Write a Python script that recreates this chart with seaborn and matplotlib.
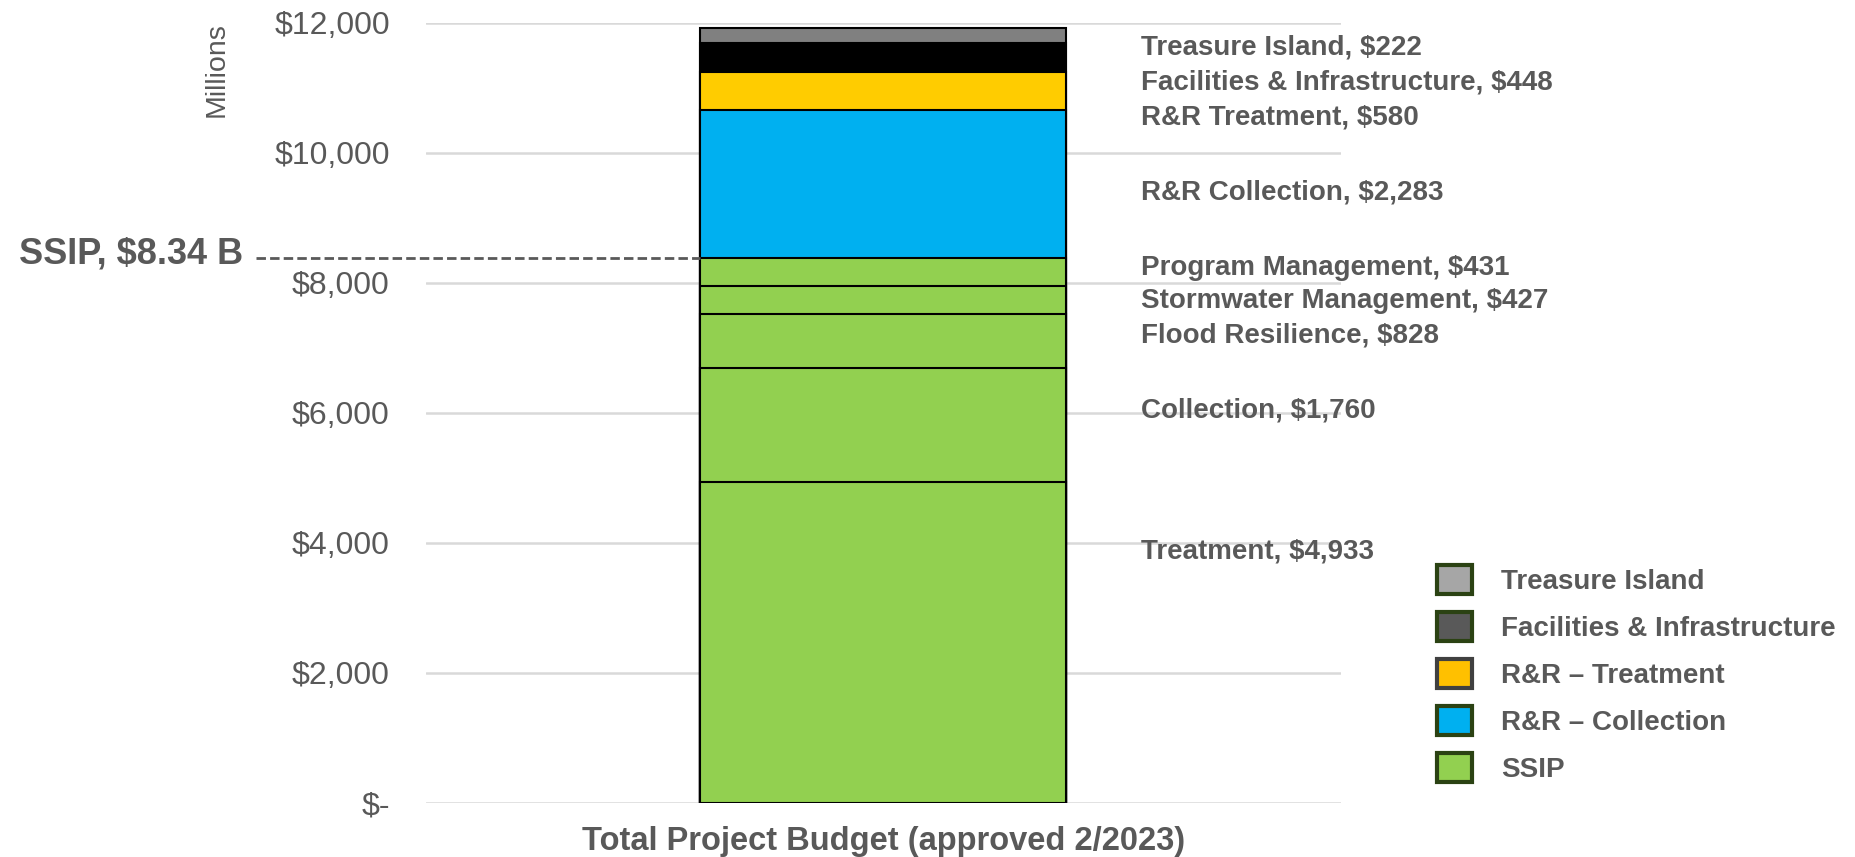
import numpy as np
import matplotlib
matplotlib.use("Agg")
import matplotlib.pyplot as plt
import seaborn as sns
from matplotlib.patches import Patch
from matplotlib.transforms import blended_transform_factory

# ---- data (millions), bottom to top ----
segment_names = ["Treatment", "Collection", "Flood Resilience", "Stormwater Management",
                 "Program Management", "R&R Collection", "R&R Treatment",
                 "Facilities & Infrastructure", "Treasure Island"]
segment_values = [4933, 1760, 828, 427, 431, 2283, 580, 448, 222]
segment_colors = ["#92d050", "#92d050", "#92d050", "#92d050", "#92d050",
                  "#00b0f0", "#ffcc00", "#000000", "#808080"]
# label placement (data units) for the side annotations
label_y = [3860, 6027, 7193, 7721, 8231, 9378, 10543, 11071, 11618]

legend_names = ["Treasure Island", "Facilities & Infrastructure", "R&R \u2013 Treatment",
                "R&R \u2013 Collection", "SSIP"]
legend_colors = ["#a6a6a6", "#595959", "#ffc000", "#00b0f0", "#92d050"]
legend_edges = ["#2b4213", "#2b4213", "#404040", "#2b4213", "#2b4213"]

category = "Total Project Budget (approved 2/2023)"
ssip_parts = 5
ssip_label = "SSIP, $8.34 B"
yticks = [0, 2000, 4000, 6000, 8000, 10000, 12000]
ytick_labels = ["$-", "$2,000", "$4,000", "$6,000", "$8,000", "$10,000", "$12,000"]

sns.set_style("white")
plt.rcParams['font.family'] = ['Liberation Sans', 'DejaVu Sans']
txt = "#595959"

fig = plt.figure(figsize=(18.56, 8.57), dpi=100)
ax = fig.add_axes([0.2295, 0.0635, 0.4930, 0.9102])

# stacked bar: draw cumulative totals from tallest down
tops = np.cumsum(segment_values)
for i in range(len(tops) - 1, -1, -1):
    sns.barplot(x=[category], y=[tops[i]], color=segment_colors[i], saturation=1,
                width=0.4, edgecolor="black", linewidth=1.5, errorbar=None, ax=ax)

ax.set_xlim(-0.5, 0.5)
ax.set_ylim(0, 12000)
ax.set_yticks(yticks)
ax.set_yticklabels(ytick_labels)
ax.grid(axis="y", color="#d9d9d9", linewidth=1.8)
ax.grid(axis="x", visible=False)
ax.set_axisbelow(True)
sns.despine(ax=ax, left=True, bottom=True)
ax.tick_params(axis="y", length=0, pad=26, labelsize=23, labelcolor=txt)
ax.tick_params(axis="x", length=0, pad=17, labelsize=23.5, labelcolor=txt)
for t in ax.get_xticklabels():
    t.set_fontweight("bold")
ax.set_xlabel("")
ax.set_ylabel("")

# side labels
tr = blended_transform_factory(ax.transAxes, ax.transData)
for name, val, y in zip(segment_names, segment_values, label_y):
    ax.text(0.782, y, f"{name}, ${val:,}", transform=tr, ha="left", va="center",
            fontsize=20, fontweight="bold", color=txt)

# SSIP dashed marker
ssip_total = tops[ssip_parts - 1]
ax.plot([-0.186, 0.300], [ssip_total, ssip_total], transform=tr, linestyle=(0, (3.4, 1.5)),
        color=txt, linewidth=2, clip_on=False)
ax.text(-0.200, ssip_total + 60, ssip_label, transform=tr, ha="right", va="center",
        fontsize=26, fontweight="bold", color=txt)

fig.text(217 / 1856, 1 - 70 / 857, "Millions", rotation=90, ha="center", va="center",
         fontsize=20.5, color=txt)

handles = [Patch(facecolor=c, edgecolor=e, linewidth=3) for c, e in zip(legend_colors, legend_edges)]
leg = fig.legend(handles, legend_names, loc="upper left", bbox_to_anchor=(1437 / 1856, 1 - 565 / 857),
                 frameon=False, borderpad=0, borderaxespad=0,
                 handlelength=1.25, handleheight=1.25, handletextpad=1.05, labelspacing=0.61,
                 prop={"weight": "bold", "size": 20})
for t in leg.get_texts():
    t.set_color(txt)

fig.savefig("out.png", dpi=100)
